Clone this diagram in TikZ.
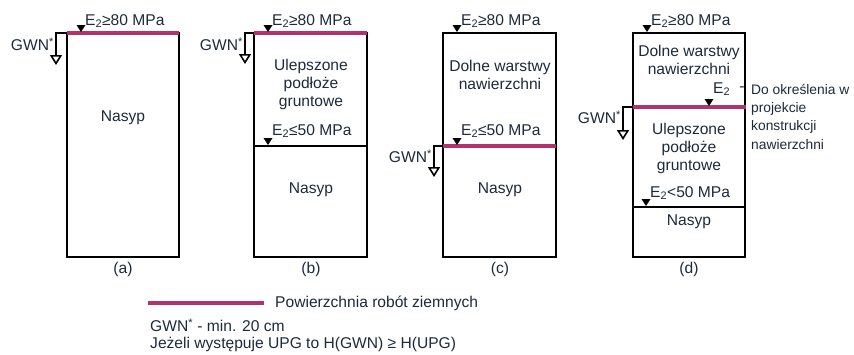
\documentclass[tikz,border=0pt]{standalone}
\usepackage{fontspec}
\setmainfont{Liberation Sans}
\usetikzlibrary{arrows.meta}
\definecolor{mag}{HTML}{B2336C}
\definecolor{txt}{HTML}{1E2A3C}
\newcommand\mkr[2]{\fill[black] (#1-4.5,#2-8) -- (#1+4.5,#2-8) -- (#1,#2-1) -- cycle;}
\begin{document}
\begin{tikzpicture}[x=1pt,y=-1pt,
  boxline/.style={draw=black,line width=2.7pt},
  surf/.style={draw=mag,line width=3.6pt},
  lbl/.style={font=\fontsize{15.6}{18}\selectfont,text=txt,inner sep=0pt},
  sml/.style={font=\fontsize{13.8}{18}\selectfont,text=txt,inner sep=0pt},
  gwn/.style={draw=black,line width=2pt,-{Triangle[open,width=12pt,length=10pt,line width=1.6pt]}}
]
\useasboundingbox[fill=white] (0,0) rectangle (854,354);

% ---------- (a)
\draw[boxline] (67,33) rectangle (179,257);
\draw[surf] (67,33) -- (179,33);
\mkr{81}{33}
\node[lbl,anchor=west] (ea) at (85,21) {E\textsubscript{2}≥80 MPa};
\node[lbl] (na) at (123,118) {Nasyp};
\coordinate (ga0) at (67,33); \coordinate (ga1) at (56,33); \coordinate (ga2) at (56,65);
\draw[gwn] (ga0) -- (ga1) -- (ga2);
\node[lbl,anchor=east] (gwa) at (54,44) {GWN\textsuperscript{*}};
\node[lbl] (la) at (123,269) {(a)};

% ---------- (b)
\draw[boxline] (254,33) rectangle (367,257);
\draw[boxline] (254,146) -- (367,146);
\draw[surf] (254,33) -- (367,33);
\mkr{268}{33}
\node[lbl,anchor=west] (eb) at (272,21) {E\textsubscript{2}≥80 MPa};
\node[lbl,align=center] (ub) at (311,84) {Ulepszone\\podłoże\\gruntowe};
\mkr{268}{146}
\node[lbl,anchor=west] (eb2) at (272,131) {E\textsubscript{2}≤50 MPa};
\node[lbl] (nb) at (311,190) {Nasyp};
\coordinate (gb0) at (254,33); \coordinate (gb1) at (245,33); \coordinate (gb2) at (245,64);
\draw[gwn] (gb0) -- (gb1) -- (gb2);
\node[lbl,anchor=east] (gwb) at (243,44) {GWN\textsuperscript{*}};
\node[lbl] (lb) at (311,269) {(b)};

% ---------- (c)
\draw[boxline] (443,33) rectangle (556,257);
\draw[surf] (443,146) -- (556,146);
\mkr{457}{33}
\node[lbl,anchor=west] (ec) at (461,21) {E\textsubscript{2}≥80 MPa};
\node[lbl,align=center] (dc) at (500,75) {Dolne warstwy\\nawierzchni};
\mkr{457}{146}
\node[lbl,anchor=west] (ec2) at (461,131) {E\textsubscript{2}≤50 MPa};
\node[lbl] (nc) at (500,190) {Nasyp};
\coordinate (gc0) at (443,146); \coordinate (gc1) at (434,146); \coordinate (gc2) at (434,177);
\draw[gwn] (gc0) -- (gc1) -- (gc2);
\node[lbl,anchor=east] (gwc) at (432,156) {GWN\textsuperscript{*}};
\node[lbl] (lc) at (500,269) {(c)};

% ---------- (d)
\draw[boxline] (633,33) rectangle (745,257);
\draw[boxline] (633,207) -- (745,207);
\draw[surf] (633,107) -- (746,107);
\mkr{647}{33}
\node[lbl,anchor=west] (ed) at (651,21) {E\textsubscript{2}≥80 MPa};
\node[lbl,align=center] (dd) at (689,60) {Dolne warstwy\\nawierzchni};
\mkr{709}{107}
\node[lbl,anchor=west] (ed2) at (713,89) {E\textsubscript{2}};
\node[lbl] (dash) at (742,89) {-};
\node[sml,anchor=west] (r1) at (751,89) {Do określenia w};
\node[sml,anchor=west] (r2) at (751,109) {projekcie};
\node[sml,anchor=west] (r3) at (751,127) {konstrukcji};
\node[sml,anchor=west] (r4) at (751,145) {nawierzchni};
\node[lbl,align=center] (ud) at (689,148) {Ulepszone\\podłoże\\gruntowe};
\mkr{646}{207}
\node[lbl,anchor=west] (ed3) at (650,193) {E\textsubscript{2}<50 MPa};
\node[lbl] (nd) at (689,222) {Nasyp};
\coordinate (gd0) at (633,107); \coordinate (gd1) at (623,107); \coordinate (gd2) at (623,140);
\draw[gwn] (gd0) -- (gd1) -- (gd2);
\node[lbl,anchor=east] (gwd) at (621,117) {GWN\textsuperscript{*}};
\node[lbl] (ld) at (689,269) {(d)};

% ---------- legend
\coordinate (l0) at (148,303); \coordinate (l1) at (264,303);
\draw[surf] (l0) -- (l1);
\node[lbl,anchor=west] (lg1) at (275,303) {Powierzchnia robót ziemnych};
\node[lbl,anchor=west] (lg2) at (150,325) {GWN\textsuperscript{*} - min. 20 cm};
\node[lbl,anchor=west] (lg3) at (150,344) {Jeżeli występuje UPG to H(GWN) ≥ H(UPG)};
\end{tikzpicture}
\end{document}
